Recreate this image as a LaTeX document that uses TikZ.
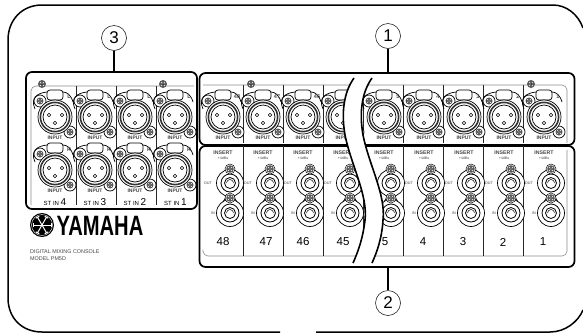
\documentclass[tikz,border=0pt]{standalone}
\usepackage{fontspec}
\setmainfont{Liberation Sans}
\usepackage{tikz}
\definecolor{panelgray}{RGB}{140,140,140}
\definecolor{labelgray}{RGB}{70,70,70}

\tikzset{
  groupbox/.style={draw=black,line width=1.7pt,rounded corners=6pt,inner sep=0pt},
  callnum/.style={draw=black,line width=0.5pt,circle,minimum size=25pt,inner sep=0pt,font=\fontsize{17}{17}\selectfont},
  callline/.style={line width=1.6pt},
  grayline/.style={draw=panelgray,line width=0.6pt},
  divider/.style={draw=black!85,line width=0.5pt},
  tinylabel/.style={inner sep=0pt,text=labelgray,font=\fontsize{3.8}{5}\selectfont},
  sidelabel/.style={inner sep=0pt,text=labelgray,font=\fontsize{5.5}{6}\bfseries\selectfont},
  numlabel/.style={inner sep=0pt,font=\fontsize{11.5}{11.5}\selectfont},
}
% screw head with a cross
\newcommand{\screwhead}[3]{%
  \fill[black!65] (#1,#2) circle (#3);
  \draw[white,line width=0.5pt] (#1-#3*0.5,#2-#3*0.5) -- (#1+#3*0.5,#2+#3*0.5) (#1-#3*0.5,#2+#3*0.5) -- (#1+#3*0.5,#2-#3*0.5);
  \fill[black] (#1,#2) circle (#3*0.25);
}
% xlr socket: x, y, label, name
\newcommand{\xlrsocket}[4]{%
  \begin{scope}[shift={(#1,#2)}]
    \draw[fill=white,line width=0.7pt] (-8,-27) [rounded corners=3pt] -- (8,-27) -- (8,-17) -- (-8,-17) -- cycle;
    \draw[line width=0.7pt] (-20,-8) .. controls (-25,-19) and (-18,-24) .. (-8,-25) (8,-25) .. controls (12,-25) and (16,-22) .. (18,-15);
    \draw[fill=white,line width=0.7pt] (-15,-16) circle (6);
    \draw[fill=white,line width=0.7pt] (15,15) circle (6);
    \draw[fill=white,line width=0.7pt] (0,0) circle (17);
    \draw[line width=1.6pt,black!80] (0,0) circle (14.6);
    \draw[line width=0.7pt] (0,0) circle (12);
    \screwhead{-15}{-16}{3.5}
    \screwhead{15}{15}{3.5}
    \foreach \hx/\hy in {-6/-2,7/-2,0/6} {\draw[line width=0.6pt] (\hx,\hy) circle (1.7);}
    \node[sidelabel] (#4-tag) at (14,-20) {#3};
    \node[tinylabel] (#4-input) at (0,20.5) {\fontsize{5}{5}\selectfont\textbf{INPUT}};
  \end{scope}
}
% insert strip: column x, name
\newcommand{\insertstrip}[2]{%
  \begin{scope}[shift={(#1,0)}]
    \node[tinylabel] (#2-insert) at (0,153) {\fontsize{5.2}{5}\selectfont\textbf{INSERT}};
    \node[tinylabel] (#2-level) at (0,158.5) {\fontsize{3.6}{4}\selectfont +4dBu};
    \node[tinylabel] (#2-out) at (-15,183) {OUT};
    \node[tinylabel] (#2-in) at (-10,213) {IN};
    \draw[line width=0.6pt] (-3,173) -- (17,207) (17,173) -- (-3,207);
    \foreach \jy in {183,213} {
      \draw[fill=white,line width=0.7pt] (7,\jy) circle (13.5);
      \draw[line width=0.8pt] (7,\jy) circle (9);
      \draw[line width=0.8pt] (7,\jy) circle (5.5);
      \draw[line width=0.5pt] (3.5,\jy) arc[start angle=180,end angle=360,radius=3.5];
    }
    \draw[fill=white,line width=0.5pt] (7,169) circle (5);
    \draw[fill=white,line width=0.5pt] (7,198) circle (5);
    \screwhead{7}{169}{3.8}
    \screwhead{7}{198}{3.8}
  \end{scope}
}

\begin{document}
\begin{tikzpicture}[x=1pt,y=-1pt]
\useasboundingbox (0,0) rectangle (583,333);
\fill[white] (0,0) rectangle (583,333);

% outer panel
\draw[line width=1.5pt] (280,332) -- (42,332) .. controls (22,332) and (8,318) .. (8,298) -- (8,40) .. controls (8,20) and (22,5) .. (42,5) -- (553,5) .. controls (566,5) and (578,14) .. (583,28);
\draw[line width=1.5pt] (316,332) -- (550,332) .. controls (565,332) and (578,322) .. (583,310);

% input groups
\node[groupbox,minimum width=171pt,minimum height=137pt] (stbox) at (111.5,140.5) {};
\node[groupbox,minimum width=375pt,minimum height=72pt] (inbox) at (387,109) {};
\node[groupbox,minimum width=375pt,minimum height=121pt] (insbox) at (387,206.5) {};

% thin lines inside the groups
\draw[grayline] (31,205) -- (31,92) [rounded corners=5pt] -- (31,86) -- (194,86);
\foreach \dx in {76,116,156} {\draw[divider] (\dx,86) -- (\dx,205);}
\draw[grayline,rounded corners=5pt] (203,85) -- (567,85) -- (567,143);
\draw[grayline,rounded corners=5pt] (567,150) -- (567,256) -- (203,256) -- (203,252);
\foreach \dx in {243,283,323,363,403,443,483,523} {
  \draw[divider] (\dx,85) -- (\dx,143);
  \draw[divider] (\dx,146) -- (\dx,256);
}

% stereo inputs
\foreach \cx/\cn in {55/4,95/3,135/2,175/1} {
  \xlrsocket{\cx}{117}{L}{stl\cn}
  \xlrsocket{\cx}{170}{R}{str\cn}
}
\node[inner sep=0pt] (stlabel4) at (55,202) {\fontsize{6}{6}\selectfont ST IN \fontsize{10}{10}\selectfont 4};
\node[inner sep=0pt] (stlabel3) at (95,202) {\fontsize{6}{6}\selectfont ST IN \fontsize{10}{10}\selectfont 3};
\node[inner sep=0pt] (stlabel2) at (135,202) {\fontsize{6}{6}\selectfont ST IN \fontsize{10}{10}\selectfont 2};
\node[inner sep=0pt] (stlabel1) at (175.5,202) {\fontsize{6}{6}\selectfont ST IN \fontsize{10}{10}\selectfont 1};

% mono inputs and inserts
\foreach \cx/\cn in {223/48,263/47,303/46,343/45,384/5,424/4,464/3,504/2,544/1} {
  \xlrsocket{\cx}{117}{\cn}{mono\cn}
  \insertstrip{\cx}{ins\cn}
}
\foreach \sx/\sy in {42/84,163/84,251/84,531/84} {\screwhead{\sx}{\sy}{4}}

% break through the columns
\fill[white] (354,75) .. controls (344,92) and (341,112) .. (345,135) .. controls (351,165) and (368,195) .. (365,220) .. controls (363,238) and (358,252) .. (353,265)
  -- (372,265) .. controls (377,252) and (382,238) .. (383,220) .. controls (386,195) and (369,165) .. (363,135) .. controls (359,112) and (362,92) .. (372,75) -- cycle;
\draw[line width=1.6pt] (354,78) .. controls (344,92) and (341,112) .. (345,135) .. controls (351,165) and (368,195) .. (365,220) .. controls (363,238) and (358,252) .. (353,263);
\draw[line width=1.6pt] (372,78) .. controls (362,92) and (359,112) .. (363,135) .. controls (369,165) and (386,195) .. (383,220) .. controls (382,238) and (377,252) .. (372,263);

% channel numbers
\foreach \nx/\cn in {223/48,266/47,303/46,343/45,385/5,423/4,463/3,503/2,543/1} {
  \node[numlabel] (num\cn) at (\nx,242) {\cn};
}

% callouts
\node[callnum] (numthree) at (114,38) {3};
\node[callnum] (numone) at (388,36) {1};
\node[callnum] (numtwo) at (388,303) {2};
\draw[callline] (numthree) -- (numthree |- stbox.north);
\draw[callline] (numone) -- (numone |- inbox.north);
\draw[callline] (numtwo) -- (numtwo |- insbox.south);

% maker mark
\fill[black] (42,225) circle (12);
\draw[white,line width=0.4pt] (42,225) circle (10.5);
\foreach \ang in {0,60,120} {
  \draw[white,line width=1pt,rotate around={\ang:(42,225)}] (33,225) -- (51,225) (33,223) -- (33,227) (51,223) -- (51,227);
}
\node[inner sep=0pt,xscale=0.72,font=\fontsize{28}{28}\bfseries\selectfont] (yamaha) at (100,225.5) {YAMAHA};
\node[inner sep=0pt,align=left,anchor=north west,text=labelgray,font=\fontsize{5.4}{7}\selectfont] (model) at (30,250) {DIGITAL MIXING CONSOLE\\MODEL PM5D};
\end{tikzpicture}
\end{document}
